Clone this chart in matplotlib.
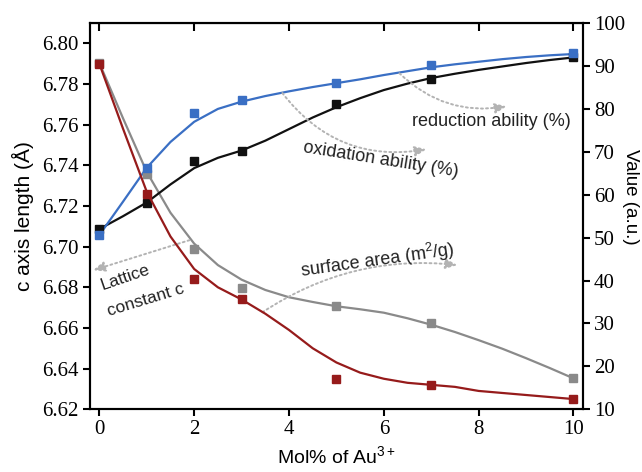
import matplotlib
matplotlib.use("Agg")
import matplotlib.pyplot as plt

# measured points
mol = [0, 1, 2, 3, 5, 7, 10]
lattice_c = [6.790, 6.726, 6.684, 6.674, 6.635, 6.632, 6.625]
reduction = [50.6, 66.2, 79.0, 82.0, 86.0, 90.2, 93.0]
oxidation = [52.0, 58.0, 67.8, 70.2, 81.1, 86.9, 92.1]
surface = [90.7, 64.8, 47.3, 38.2, 34.0, 30.0, 17.2]

# smooth guide curves
fit_x = [0, 0.5, 1, 1.5, 2, 2.5, 3, 3.5, 4, 4.5, 5, 5.5, 6, 6.5, 7, 7.5, 8, 8.5, 9, 9.5, 10]
fit_lattice = [6.790, 6.758, 6.727, 6.705, 6.689, 6.680, 6.674, 6.667, 6.659, 6.650, 6.643,
               6.638, 6.635, 6.633, 6.632, 6.631, 6.629, 6.628, 6.627, 6.626, 6.625]
fit_reduction = [50.6, 58.4, 66.3, 72.3, 77.0, 80.0, 81.7, 83.0, 84.1, 85.1, 86.0,
                 86.9, 87.9, 88.8, 89.7, 90.4, 91.0, 91.6, 92.1, 92.5, 92.8]
fit_oxidation = [52.0, 55.0, 58.2, 62.4, 66.2, 68.6, 70.3, 72.6, 75.3, 78.0, 80.4,
                 82.5, 84.4, 85.9, 87.2, 88.2, 89.1, 89.9, 90.7, 91.4, 92.0]
fit_surface = [90.7, 77.8, 65.3, 55.8, 48.6, 43.6, 40.2, 37.8, 36.1, 35.0, 34.0,
               33.3, 32.5, 31.2, 29.7, 28.0, 26.1, 24.1, 21.9, 19.6, 17.2]

RED = "#961b1b"
BLUE = "#3a6fc4"
GRAY = "#8a8a8a"
BLACK = "#111111"
ARROW = "#b3b3b3"
TXT = "#222222"

serif = "Liberation Serif"
sans = "Liberation Sans"
plt.rcParams["mathtext.fontset"] = "custom"
plt.rcParams["mathtext.rm"] = sans
plt.rcParams["mathtext.it"] = sans + ":italic"
plt.rcParams["mathtext.bf"] = sans + ":bold"

fig = plt.figure(figsize=(6.42, 4.72), dpi=100)
ax = fig.add_axes([0.140, 0.133, 0.768, 0.818])
ax2 = ax.twinx()

# right axis series
ax2.plot(fit_x, fit_surface, color=GRAY, lw=1.6, zorder=2)
ax2.plot(fit_x, fit_oxidation, color=BLACK, lw=1.6, zorder=2)
ax2.plot(fit_x, fit_reduction, color=BLUE, lw=1.6, zorder=2)
ax2.plot(mol, surface, "s", color=GRAY, ms=5.5, zorder=3)
ax2.plot(mol, oxidation, "s", color=BLACK, ms=5.5, zorder=3)
ax2.plot(mol, reduction, "s", color=BLUE, ms=5.5, zorder=3)

# lattice constant on left axis, drawn over the right axes
ax.set_zorder(ax2.get_zorder() + 1)
ax.patch.set_visible(False)
ax.plot(fit_x, fit_lattice, color=RED, lw=1.6, zorder=2)
ax.plot(mol, lattice_c, "s", color=RED, ms=5.5, zorder=3)

ax.set_xlim(-0.2, 10.2)
ax.set_ylim(6.62, 6.81)
ax2.set_ylim(10, 100)
ax.set_xticks(range(0, 11, 2))
ax.set_yticks([6.62, 6.64, 6.66, 6.68, 6.70, 6.72, 6.74, 6.76, 6.78, 6.80])
ax.set_yticklabels([f"{v:.2f}" for v in ax.get_yticks()])
ax2.set_yticks(range(10, 101, 10))

for a in (ax, ax2):
    for s in a.spines.values():
        s.set_linewidth(1.5)
    for lab in a.get_xticklabels() + a.get_yticklabels():
        lab.set_fontfamily(serif)
        lab.set_fontsize(15)
ax.tick_params(axis="both", direction="out", length=5, width=1.5, pad=3)
ax2.tick_params(axis="y", direction="out", length=5, width=1.5, pad=3)

top = ax.secondary_xaxis("top")
top.set_xticks(range(0, 11, 2))
top.tick_params(direction="in", length=6, width=1.5, labeltop=False)

ax.set_xlabel("Mol% of Au$^{3+}$", family=sans, fontsize=14, labelpad=4)
ax.set_ylabel("c axis length (Å)", family=sans, fontsize=15, labelpad=6)
ax2.set_ylabel("Value (a.u.)", family=sans, fontsize=13.5, rotation=-90,
               va="center", ha="center")
ax2.yaxis.set_label_coords(1.097, 0.55)

arrow_kw = dict(arrowstyle="-|>,head_length=0.7,head_width=0.3", color=ARROW,
                lw=1.4, ls=(0, (1, 1.6)), shrinkA=0, shrinkB=0)

# annotations (right-axis data coordinates)
ax2.annotate("", xy=(8.59, 80.6), xytext=(6.33, 88.3),
             arrowprops=dict(connectionstyle="arc3,rad=0.25", **arrow_kw))
ax2.text(6.60, 76.0, "reduction ability (%)", family=sans, fontsize=13, color=TXT,
         ha="left", va="baseline")

ax2.annotate("", xy=(6.90, 70.6), xytext=(3.86, 83.7),
             arrowprops=dict(connectionstyle="arc3,rad=0.3", **arrow_kw))
ax2.text(4.28, 69.9, "oxidation ability (%)", family=sans, fontsize=13, color=TXT,
         ha="left", va="baseline", rotation=-9, rotation_mode="anchor")

ax2.annotate("", xy=(-0.13, 42.4), xytext=(1.90, 49.4),
             arrowprops=dict(connectionstyle="arc3,rad=0", **arrow_kw))
ax2.text(0.06, 37.7, "Lattice", family=sans, fontsize=12.5, color=TXT,
         ha="left", va="baseline", rotation=19, rotation_mode="anchor")
ax2.text(0.21, 31.7, "constant c", family=sans, fontsize=12.5, color=TXT,
         ha="left", va="baseline", rotation=17, rotation_mode="anchor")

ax2.annotate("", xy=(7.55, 43.6), xytext=(3.44, 32.6),
             arrowprops=dict(connectionstyle="arc3,rad=-0.18", **arrow_kw))
ax2.text(4.26, 40.8, "surface area (m$^2$/g)", family=sans, fontsize=13, color=TXT,
         ha="left", va="baseline", rotation=8, rotation_mode="anchor")

fig.savefig("out.png", dpi=100)
